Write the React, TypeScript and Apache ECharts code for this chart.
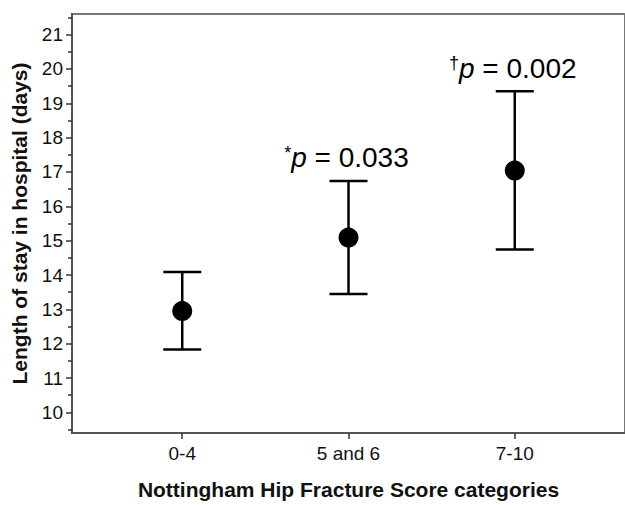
import React, { useEffect, useRef } from "react";
import * as echarts from "echarts";

const categories = ["0-4", "5 and 6", "7-10"];
const means = [12.95, 15.09, 17.04];
const lower = [11.83, 13.45, 14.74];
const upper = [14.09, 16.74, 19.35];
const pLabels = ["", "{sym|*}{it|p} = 0.033", "{sym|\u2020}{it|p} = 0.002"];
const yMajorTicks = [10, 11, 12, 13, 14, 15, 16, 17, 18, 19, 20, 21];
const yMinorTicks = [9.5, 10.5, 11.5, 12.5, 13.5, 14.5, 15.5, 16.5, 17.5, 18.5, 19.5, 20.5, 21.5];
const xPositions = [1, 2, 3];

const FONT = "'Liberation Sans', Arial, Helvetica, sans-serif";

export default function App() {
  const ref = useRef<HTMLDivElement>(null);
  useEffect(() => {
    if (!ref.current) return;
    const chart = echarts.init(ref.current, undefined, { renderer: "svg" });
    const data = categories.map((_, i) => [xPositions[i], means[i], lower[i], upper[i]]);
    chart.setOption({
      animation: false,
      backgroundColor: "#fff",
      grid: {
        left: 72,
        top: 14,
        right: -3,
        bottom: 63,
        show: true,
        borderColor: "#777",
        borderWidth: 2,
        containLabel: false,
      },
      xAxis: {
        type: "value",
        min: 0.337,
        max: 3.663,
        splitLine: { show: false },
        axisLine: { show: true, lineStyle: { color: "#555", width: 2 } },
        axisTick: {
          show: true,
          length: 6,
          customValues: xPositions,
          lineStyle: { color: "#333", width: 1.5 },
        },
        axisLabel: {
          show: true,
          customValues: xPositions,
          formatter: (v: number) => categories[Math.round(v) - 1] ?? "",
          fontSize: 19,
          fontFamily: FONT,
          color: "#111",
          margin: 11,
        },
        name: "Nottingham Hip Fracture Score categories",
        nameLocation: "middle",
        nameGap: 46,
        nameTextStyle: { fontSize: 21, fontWeight: "bold", fontFamily: FONT, color: "#111" },
      },
      yAxis: [
        {
          type: "value",
          min: 9.4,
          max: 21.6,
          splitLine: { show: false },
          axisLine: { show: true, lineStyle: { color: "#555", width: 2 } },
          axisTick: {
            show: true,
            length: 6,
            customValues: yMajorTicks,
            lineStyle: { color: "#333", width: 1.5 },
          },
          axisLabel: {
            show: true,
            customValues: yMajorTicks,
            fontSize: 19,
            fontFamily: FONT,
            color: "#111",
            margin: 9,
          },
          name: "Length of stay in hospital (days)",
          nameLocation: "middle",
          nameGap: 42,
          nameRotate: 90,
          nameTextStyle: { fontSize: 21, fontWeight: "bold", fontFamily: FONT, color: "#111" },
        },
        {
          type: "value",
          min: 9.4,
          max: 21.6,
          position: "left",
          offset: 0,
          splitLine: { show: false },
          axisLine: { show: false },
          axisTick: {
            show: true,
            length: 4,
            customValues: yMinorTicks,
            lineStyle: { color: "#333", width: 1.5 },
          },
          axisLabel: { show: false },
        },
      ],
      series: [
        {
          type: "custom",
          data,
          renderItem: (params: any, api: any) => {
            const x = api.value(0);
            const m = api.value(1);
            const lo = api.value(2);
            const hi = api.value(3);
            const pHi = api.coord([x, hi]);
            const pLo = api.coord([x, lo]);
            const pM = api.coord([x, m]);
            const capHalf = 19;
            const lineStyle = { stroke: "#000", lineWidth: 2.5 };
            const children: any[] = [
              { type: "line", shape: { x1: pLo[0], y1: pLo[1], x2: pHi[0], y2: pHi[1] }, style: lineStyle },
              { type: "line", shape: { x1: pHi[0] - capHalf, y1: pHi[1], x2: pHi[0] + capHalf, y2: pHi[1] }, style: lineStyle },
              { type: "line", shape: { x1: pLo[0] - capHalf, y1: pLo[1], x2: pLo[0] + capHalf, y2: pLo[1] }, style: lineStyle },
              { type: "circle", shape: { cx: pM[0], cy: pM[1], r: 10 }, style: { fill: "#000" } },
            ];
            const lbl = pLabels[params.dataIndex];
            if (lbl) {
              children.push({
                type: "text",
                style: {
                  text: lbl,
                  x: pHi[0] - 2,
                  y: pHi[1] - 23,
                  align: "center",
                  verticalAlign: "middle",
                  fontSize: 28,
                  fontFamily: FONT,
                  fill: "#000",
                  rich: {
                    sym: { fontSize: 18, fontFamily: FONT, verticalAlign: "top", lineHeight: 28, fill: "#000" },
                    it: { fontSize: 28, fontStyle: "italic", fontFamily: FONT, fill: "#000" },
                  },
                },
              });
            }
            return { type: "group", children };
          },
        },
      ],
    });
    return () => chart.dispose();
  }, []);
  return (
    <div
      ref={ref}
      style={{ position: "absolute", left: 0, top: 0, width: 625, height: 505 }}
    />
  );
}
